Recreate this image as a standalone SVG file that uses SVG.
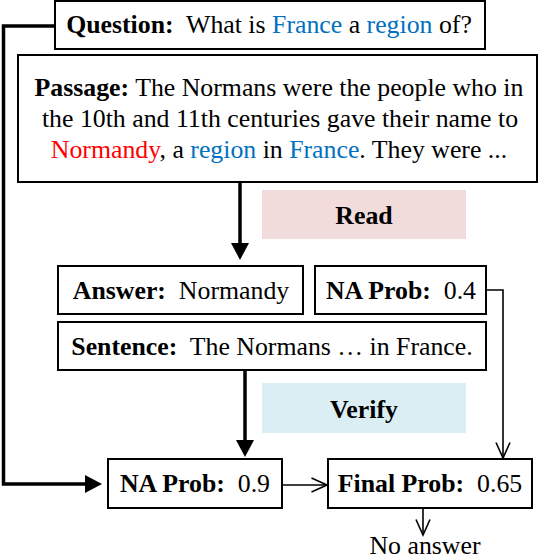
<svg xmlns="http://www.w3.org/2000/svg" width="540" height="560" viewBox="0 0 540 560">
  <style>
    text { font-family: "Liberation Serif", "Times New Roman", serif; font-size: 25.8px; fill: #000; }
    .b { font-weight: bold; }
    .blue { fill: #0070c0; }
    .red { fill: #ff0000; }
    .box { fill: #fff; stroke: #000; stroke-width: 2; }
    .thick { fill: none; stroke: #000; stroke-width: 3.5; }
    .thin { fill: none; stroke: #000; stroke-width: 1.6; }
  </style>
  <defs>
    <marker id="solid" viewBox="0 0 17 18" refX="13" refY="9" markerWidth="17" markerHeight="18" markerUnits="userSpaceOnUse" orient="auto">
      <path d="M0,0 L17,9 L0,18 z" fill="#000"/>
    </marker>
    <marker id="open" viewBox="-1 -1 18 16" refX="15.5" refY="7" markerWidth="18" markerHeight="16" markerUnits="userSpaceOnUse" orient="auto">
      <path d="M0,0 L15.5,7 L0,14" fill="none" stroke="#000" stroke-width="1.6"/>
    </marker>
  </defs>

  <g id="connectors">
    <polyline class="thick" points="55,26 3.5,26 3.5,484 98,484" marker-end="url(#solid)"/>
    <line class="thick" x1="240" y1="183" x2="240" y2="256" marker-end="url(#solid)"/>
    <line class="thick" x1="245" y1="371" x2="245" y2="453" marker-end="url(#solid)"/>
    <polyline class="thin" points="486,290 503,290 503,458" marker-end="url(#open)"/>
    <line class="thin" x1="282" y1="485" x2="327" y2="485" marker-end="url(#open)"/>
    <line class="thin" x1="423" y1="508" x2="423" y2="535" marker-end="url(#open)"/>
  </g>

  <g id="question">
    <rect class="box" x="55" y="1" width="430" height="48"/>
    <text x="269" y="33" text-anchor="middle"><tspan class="b">Question:</tspan>&#160; What is <tspan class="blue">France</tspan> a <tspan class="blue">region</tspan> of?</text>
  </g>

  <g id="passage">
    <rect class="box" x="18" y="55" width="519" height="127"/>
    <text x="279" y="96" text-anchor="middle"><tspan class="b">Passage:</tspan> The Normans were the people who in</text>
    <text x="280" y="127" text-anchor="middle">the 10th and 11th centuries gave their name to</text>
    <text x="279" y="158" text-anchor="middle"><tspan class="red">Normandy</tspan>, a <tspan class="blue">region</tspan> in <tspan class="blue">France</tspan>. They were ...</text>
  </g>

  <g id="read">
    <rect x="262" y="190" width="204" height="49" fill="#f2dcdb"/>
    <text class="b" x="364" y="224" text-anchor="middle">Read</text>
  </g>

  <g id="answer">
    <rect class="box" x="58" y="266" width="245" height="48"/>
    <text x="181" y="299" text-anchor="middle"><tspan class="b">Answer:</tspan>&#160; Normandy</text>
  </g>

  <g id="na-prob-1">
    <rect class="box" x="315" y="266" width="171" height="48"/>
    <text x="401" y="299" text-anchor="middle"><tspan class="b">NA Prob:</tspan>&#160; 0.4</text>
  </g>

  <g id="sentence">
    <rect class="box" x="58" y="322" width="428" height="48"/>
    <text x="272" y="355" text-anchor="middle"><tspan class="b">Sentence:</tspan>&#160; The Normans … in France.</text>
  </g>

  <g id="verify">
    <rect x="262" y="383" width="204" height="50" fill="#dbeef4"/>
    <text class="b" x="364" y="418" text-anchor="middle">Verify</text>
  </g>

  <g id="na-prob-2">
    <rect class="box" x="108" y="459" width="174" height="49"/>
    <text x="195" y="492" text-anchor="middle"><tspan class="b">NA Prob:</tspan>&#160; 0.9</text>
  </g>

  <g id="final-prob">
    <rect class="box" x="328" y="459" width="204" height="49"/>
    <text x="430" y="492" text-anchor="middle"><tspan class="b">Final Prob:</tspan>&#160; 0.65</text>
  </g>

  <g id="no-answer">
    <text x="425" y="554" text-anchor="middle">No answer</text>
  </g>
</svg>
